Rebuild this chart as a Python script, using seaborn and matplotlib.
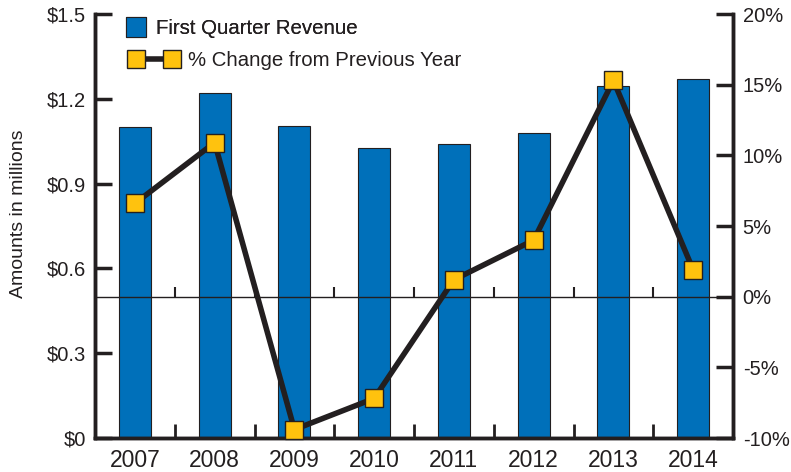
import numpy as np
import pandas as pd
import matplotlib
matplotlib.use("Agg")
import matplotlib.pyplot as plt
import seaborn as sns
from matplotlib.lines import Line2D
from matplotlib.legend_handler import HandlerLine2D

years = ["2007", "2008", "2009", "2010", "2011", "2012", "2013", "2014"]
revenue = [1.10, 1.22, 1.105, 1.025, 1.04, 1.08, 1.245, 1.27]
pct_change = [6.6, 10.9, -9.4, -7.2, 1.2, 4.0, 15.3, 1.9]

left_ticks = [0, 0.3, 0.6, 0.9, 1.2, 1.5]
left_labels = ["$0", "$0.3", "$0.6", "$0.9", "$1.2", "$1.5"]
right_ticks = [-10, -5, 0, 5, 10, 15, 20]
right_labels = ["-10%", "-5%", "0%", "5%", "10%", "15%", "20%"]

BLUE = "#0070BA"
YELLOW = "#FFC20E"
DARK = "#231F20"

sns.set_theme(style="white")
plt.rcParams["font.family"] = ["Liberation Sans", "DejaVu Sans"]

df = pd.DataFrame({"year": years, "revenue": revenue, "pct": pct_change})
df["pos"] = np.arange(len(years))
bounds = np.arange(0.5, len(years) - 0.5, 1)

fig = plt.figure(figsize=(7.91, 4.72), dpi=100)
ax = fig.add_axes([0.1201, 0.0720, 0.8066, 0.8983])

# revenue bars (left axis)
sns.barplot(data=df, x="year", y="revenue", color=BLUE, width=0.4,
            edgecolor=DARK, linewidth=0.8, saturation=1, ax=ax)
ax.set_xlim(-0.5, len(years) - 0.5)
ax.set_ylim(0, 1.5)
ax.set_yticks(left_ticks)
ax.set_yticklabels(left_labels, fontsize=14.5, color=DARK)
ax.set_xlabel("")
ax.set_ylabel("Amounts in millions", fontsize=14, color=DARK)
ax.yaxis.set_label_coords(-0.107, 0.528)
ax.tick_params(axis="y", left=True, direction="in", length=12, width=2.5, color=DARK, pad=6.5)
ax.set_xticks(df["pos"])
ax.set_xticklabels(years, fontsize=16.5, color=DARK)
ax.tick_params(axis="x", which="major", bottom=True, length=0, pad=8)
ax.set_xticks(bounds, minor=True)
ax.tick_params(axis="x", which="minor", bottom=True, direction="in", length=10, width=2, color=DARK)

# % change line (right axis)
ax2 = ax.twinx()
ax2.set_ylim(-10, 20)
ax2.axhline(0, color=DARK, linewidth=1, zorder=2)
ax2.vlines(bounds, 0, 0.7, color=DARK, linewidth=1.5, zorder=2)
sns.lineplot(data=df, x="pos", y="pct", color=DARK, linewidth=4, marker="s",
             markersize=13.5, markerfacecolor=YELLOW, markeredgecolor=DARK,
             markeredgewidth=1, ax=ax2, zorder=3, clip_on=False)
ax2.set_yticks(right_ticks)
ax2.set_yticklabels(right_labels, fontsize=14.5, color=DARK)
ax2.set_ylabel("")
ax2.tick_params(axis="y", right=True, direction="in", length=12, width=2.5, color=DARK, pad=7)

for a in (ax, ax2):
    a.spines["top"].set_visible(False)
    for s in ("left", "right", "bottom"):
        a.spines[s].set_linewidth(2.5)
        a.spines[s].set_color(DARK)
    a.grid(False)

# legend, one entry per box so each text sits right after its own handle
h_bar = Line2D([], [], linestyle="none", marker="s", markersize=14,
               markerfacecolor=BLUE, markeredgecolor=DARK, markeredgewidth=0.8)
h_line = Line2D([], [], color=DARK, linewidth=4, marker="s", markersize=13,
                markerfacecolor=YELLOW, markeredgecolor=DARK, markeredgewidth=1)
leg1 = fig.legend([h_bar], ["First Quarter Revenue"],
                  handler_map={h_bar: HandlerLine2D(numpoints=1)},
                  loc="center left", bbox_to_anchor=(125.5 / 791, 1 - 28.5 / 472),
                  frameon=False, fontsize=14.7, borderpad=0, borderaxespad=0,
                  handlelength=1.0, handletextpad=0.5, labelcolor=DARK)
fig.legend([h_line], ["% Change from Previous Year"],
           handler_map={h_line: HandlerLine2D(numpoints=2)},
           loc="center left", bbox_to_anchor=(129.5 / 791, 1 - 61 / 472),
           frameon=False, fontsize=14.7, borderpad=0, borderaxespad=0,
           handlelength=2.4, handletextpad=0.45, labelcolor=DARK)
fig.add_artist(leg1)

fig.savefig("out.png", dpi=100)
